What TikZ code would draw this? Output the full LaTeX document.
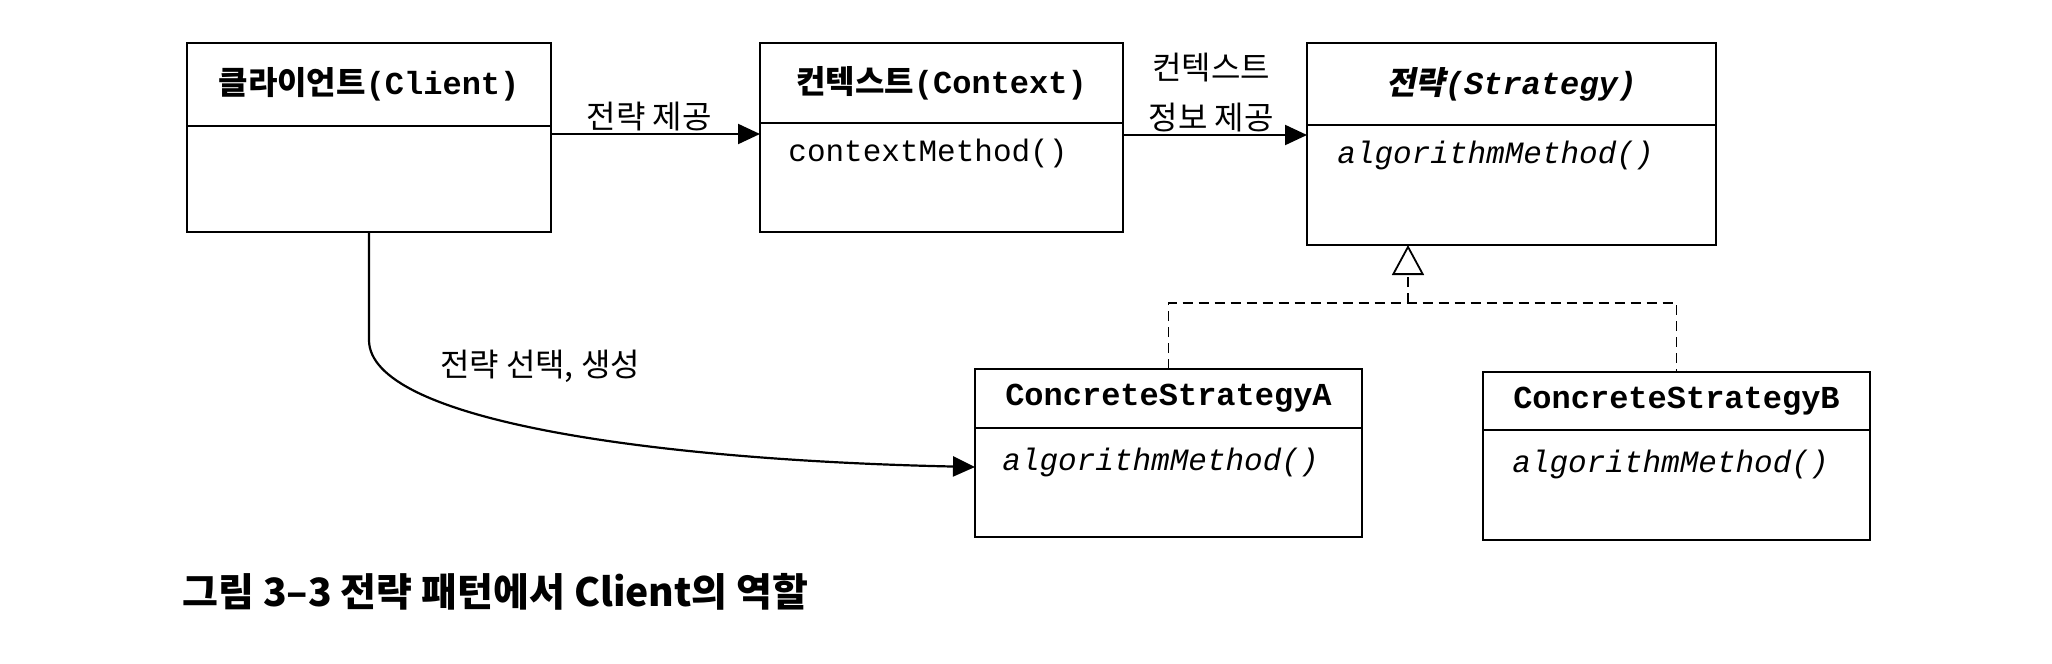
\documentclass[tikz,border=0pt]{standalone}
\usepackage{fontspec}
\setmonofont{Liberation Mono}
\newfontfamily\kofont{Noto Sans CJK KR}
\newfontfamily\koslant[FakeSlant=0.2]{Noto Sans CJK KR}
\usetikzlibrary{arrows.meta,positioning,calc}

\newcommand{\kob}[1]{{\kofont\bfseries #1}}
\newcommand{\kosl}[1]{{\koslant\bfseries #1}}
\newcommand{\ttb}[1]{{\ttfamily\bfseries #1}}

\begin{document}
\begin{tikzpicture}[x=0.5pt,y=0.5pt,yscale=-1,
    box/.style={draw,line width=1.2pt,inner sep=0pt,outer sep=0pt},
    ttl/.style={font=\fontsize{16}{19}\selectfont},
    mth/.style={font=\ttfamily\fontsize{15.5}{18}\selectfont,anchor=west,inner sep=0pt},
    lbl/.style={font=\kofont\fontsize{16}{25}\selectfont,inner sep=1pt},
    assoc/.style={line width=1.1pt,-{Triangle[length=11pt,width=10pt]}},
    realize/.style={line width=0.9pt,dash pattern=on 5pt off 3pt}]
    \useasboundingbox (0,0) rectangle (2052,664);

    % Client
    \node[box,ttl,minimum width=182pt,minimum height=41.5pt] (clientT) at (369,84.5) {\kob{클라이언트}\ttb{(Client)}};
    \node[box,minimum width=182pt,minimum height=53pt,below=0pt of clientT] (clientB) {};

    % Context
    \node[box,ttl,minimum width=181.5pt,minimum height=40pt] (ctxT) at (941.5,83) {\kob{컨텍스트}\ttb{(Context)}};
    \node[box,minimum width=181.5pt,minimum height=54.5pt,below=0pt of ctxT] (ctxB) {};
    \node[mth] (ctxM) at ($(ctxB.north west)+(28,30)$) {contextMethod()};

    % Strategy
    \node[box,ttl,minimum width=204.5pt,minimum height=41pt] (stratT) at (1511.5,84) {\kosl{전략}{\ttfamily\bfseries\itshape (Strategy)}};
    \node[box,minimum width=204.5pt,minimum height=60pt,below=0pt of stratT] (stratB) {};
    \node[mth] (stratM) at ($(stratB.north west)+(30,30)$) {\itshape algorithmMethod()};

    % ConcreteStrategyA
    \node[box,ttl,minimum width=193.5pt,minimum height=29.5pt] (csAT) at (1168.5,398.5) {\ttb{ConcreteStrategyA}};
    \node[box,minimum width=193.5pt,minimum height=54.5pt,below=0pt of csAT] (csAB) {};
    \node[mth] (csAM) at ($(csAB.north west)+(27,34)$) {\itshape algorithmMethod()};

    % ConcreteStrategyB
    \node[box,ttl,minimum width=193.5pt,minimum height=29pt] (csBT) at (1676.5,401) {\ttb{ConcreteStrategyB}};
    \node[box,minimum width=193.5pt,minimum height=55pt,below=0pt of csBT] (csBB) {};
    \node[mth] (csBM) at ($(csBB.north west)+(29,34)$) {\itshape algorithmMethod()};

    % associations
    \draw[assoc] (clientB.east |- 0,134) -- (ctxB.west |- 0,134)
        node[lbl,pos=0.47,above] {전략 제공};
    \draw[assoc] (ctxB.east |- 0,135) -- (stratB.west |- 0,135)
        node[lbl,pos=0.48,above,align=center] {컨텍스트\\정보 제공};
    \draw[assoc] (clientB.south) -- ++(0,108) .. controls +(0,80) and (650,460) .. (csAB.west |- 0,467);
    \node[lbl] (selLbl) at (540,366) {전략 선택, 생성};

    % realization
    \coordinate (inh) at (1408,303);
    \draw[realize] (csAT.north) |- (inh) -| (csBT.north);
    \draw[realize,-{Triangle[open,length=15pt,width=16pt]}] (inh) -- (inh |- stratB.south);

    % caption
    \node[font=\kofont\bfseries\fontsize{19.5}{23}\selectfont,anchor=west,inner sep=0pt] (caption) at (182,592) {그림 3–3 전략 패턴에서 Client의 역할};

\end{tikzpicture}
\end{document}
